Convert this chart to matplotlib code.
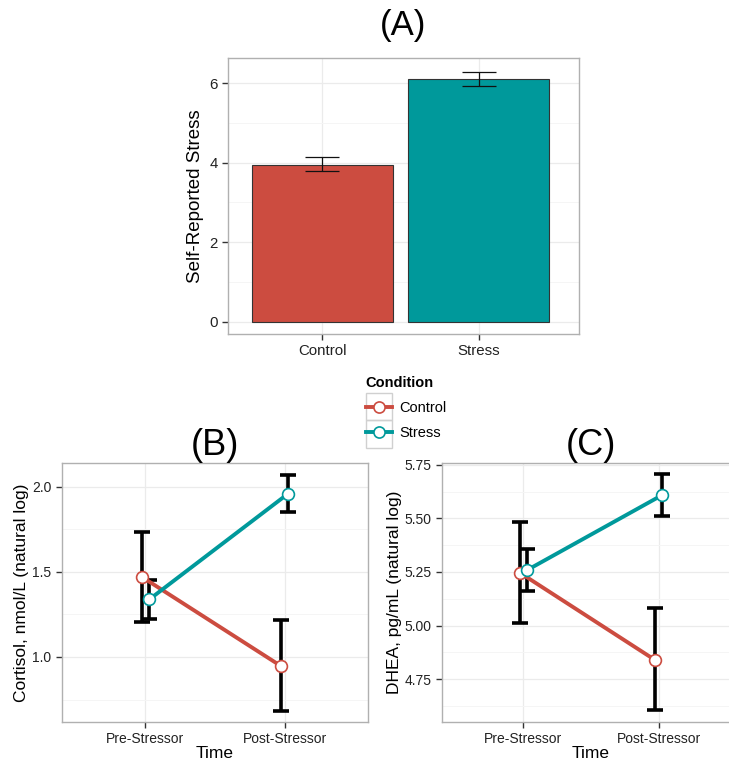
import matplotlib
matplotlib.use("Agg")
import matplotlib.pyplot as plt
from matplotlib.lines import Line2D
from matplotlib.patches import Rectangle
from matplotlib.ticker import MultipleLocator, FormatStrFormatter

plt.rcParams['font.family'] = ['Liberation Sans', 'DejaVu Sans']

# data
conditions = ['Control', 'Stress']
times = ['Pre-Stressor', 'Post-Stressor']
self_report = [3.95, 6.10]
self_report_lo = [3.78, 5.93]
self_report_hi = [4.15, 6.29]

cort_control = [1.47, 0.947]
cort_control_lo = [1.206, 0.685]
cort_control_hi = [1.733, 1.214]
cort_stress = [1.337, 1.959]
cort_stress_lo = [1.225, 1.851]
cort_stress_hi = [1.453, 2.07]

dhea_control = [5.247, 4.839]
dhea_control_lo = [5.011, 4.604]
dhea_control_hi = [5.485, 5.08]
dhea_stress = [5.258, 5.609]
dhea_stress_lo = [5.163, 5.511]
dhea_stress_hi = [5.357, 5.707]

RED = '#cc4c40'
TEAL = '#00999b'
colors = [RED, TEAL]
GRID = '#ebebeb'
GRID_MINOR = '#f5f5f5'
BORDER = '#b0b0b0'

W, H = 729, 767
fig = plt.figure(figsize=(W / 100, H / 100), dpi=100)


def px_axes(x0, y0, x1, y1):
    return fig.add_axes([x0 / W, 1 - y1 / H, (x1 - x0) / W, (y1 - y0) / H])


def style(ax, labelsize=10):
    ax.set_facecolor('white')
    for s in ax.spines.values():
        s.set_color(BORDER)
        s.set_linewidth(1.0)
    ax.grid(True, which='major', color=GRID, lw=0.9)
    ax.grid(True, which='minor', color=GRID_MINOR, lw=0.7)
    ax.set_axisbelow(True)
    ax.tick_params(which='major', length=4, width=1, color='#333333',
                   labelsize=labelsize, labelcolor='#222222')
    ax.tick_params(which='minor', length=0)


# ---- (A) bar chart
axA = px_axes(228, 58, 579, 334)
style(axA, labelsize=10.8)
xa = list(range(len(conditions)))
axA.bar(xa, self_report, width=0.9, color=colors, edgecolor='#333333', lw=0.8, zorder=2)
for i in xa:
    axA.errorbar(i, self_report[i],
                 yerr=[[self_report[i] - self_report_lo[i]], [self_report_hi[i] - self_report[i]]],
                 fmt='none', ecolor='#111111', elinewidth=0.9, capsize=12, capthick=0.9, zorder=3)
axA.set_xlim(-0.6, 1.64)
axA.set_ylim(-0.31, 6.63)
axA.set_xticks(xa)
axA.set_xticklabels(conditions)
axA.yaxis.set_major_locator(MultipleLocator(2))
axA.yaxis.set_minor_locator(MultipleLocator(1))
axA.set_ylabel('Self-Reported Stress', fontsize=13.5, labelpad=4)
axA.set_title('(A)', fontsize=25, pad=16.5)


def line_panel(ax, ctrl, ctrl_lo, ctrl_hi, strs, strs_lo, strs_hi, ylabel, title):
    style(ax)
    dodge = 0.027
    series = [(ctrl, ctrl_lo, ctrl_hi, RED, -dodge), (strs, strs_lo, strs_hi, TEAL, dodge)]
    for vals, lo, hi, c, off in series:
        xs = [i + off for i in range(len(times))]
        ax.errorbar(xs, vals, yerr=[[v - l for v, l in zip(vals, lo)], [h - v for v, h in zip(vals, hi)]],
                    fmt='none', ecolor='black', elinewidth=2.6, capsize=6, capthick=2.6, zorder=2)
    for vals, lo, hi, c, off in series:
        xs = [i + off for i in range(len(times))]
        ax.plot(xs, vals, color=c, lw=2.8, zorder=3)
        ax.plot(xs, vals, 'o', ms=8.5, mfc='white', mec=c, mew=1.2, zorder=4)
    ax.set_xlim(-0.6, 1.6)
    ax.set_xticks(range(len(times)))
    ax.set_xticklabels(times)
    ax.set_xlabel('Time', fontsize=12.5, labelpad=0)
    ax.set_ylabel(ylabel, fontsize=12.5, labelpad=2)
    ax.set_title(title, fontsize=26, pad=6)


axB = px_axes(62, 463, 368, 722)
line_panel(axB, cort_control, cort_control_lo, cort_control_hi,
           cort_stress, cort_stress_lo, cort_stress_hi,
           'Cortisol, nmol/L (natural log)', '(B)')
axB.set_ylim(0.618, 2.138)
axB.yaxis.set_major_locator(MultipleLocator(0.5))
axB.yaxis.set_minor_locator(MultipleLocator(0.25))
axB.yaxis.set_major_formatter(FormatStrFormatter('%.1f'))

axC = px_axes(442, 463, 740, 722)
line_panel(axC, dhea_control, dhea_control_lo, dhea_control_hi,
           dhea_stress, dhea_stress_lo, dhea_stress_hi,
           'DHEA, pg/mL (natural log)', '(C)')
axC.set_ylim(4.55, 5.758)
axC.yaxis.set_major_locator(MultipleLocator(0.25))
axC.yaxis.set_minor_locator(MultipleLocator(0.125))
axC.yaxis.set_major_formatter(FormatStrFormatter('%.2f'))

# ---- shared legend
handles = [Line2D([], [], color=c, lw=2.8, marker='o', ms=8, mfc='white', mec=c, mew=1.2)
           for c in colors]
leg = fig.legend(handles, conditions, title='Condition', loc='upper left',
                 bbox_to_anchor=(360 / W, 1 - 370 / H), frameon=False,
                 fontsize=10.5, handlelength=1.8, handletextpad=0.5,
                 labelspacing=0.75, borderaxespad=0, alignment='left')
leg.get_title().set_fontweight('bold')
leg.get_title().set_fontsize(10.5)
for k in range(2):
    fig.add_artist(Rectangle((366 / W, 1 - (420 + 27.5 * k) / H), 26 / W, 27.5 / H,
                             transform=fig.transFigure, fill=False,
                             edgecolor='#d0d0d0', lw=1.0, zorder=0))

fig.savefig('out.png', dpi=100, facecolor='white')
